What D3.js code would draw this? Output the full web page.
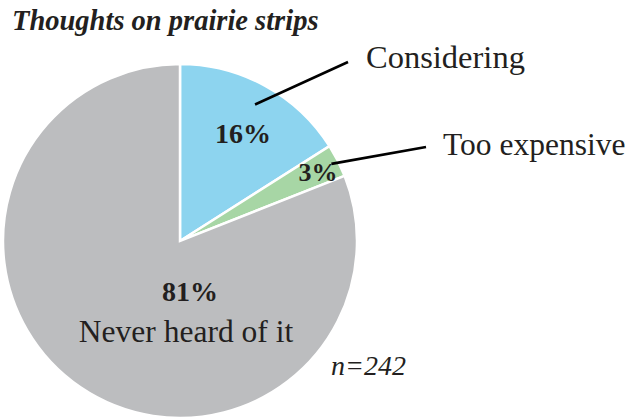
<!DOCTYPE html>
<html>
<head>
<meta charset="utf-8">
<script src="https://cdn.jsdelivr.net/npm/d3@7"></script>
<style>
  html, body { margin: 0; padding: 0; background: #fff; }
  svg text { font-family: "Liberation Serif", "DejaVu Serif", serif; fill: #231f20; }
</style>
</head>
<body>
<svg id="chart" width="636" height="420"></svg>
<script>
// Survey responses on prairie strips (percent of respondents)
const categories = ["Considering", "Too expensive", "Never heard of it"];
const values = [16, 3, 81];
const valueLabels = ["16%", "3%", "81%"];
const colors = ["#8dd4ef", "#a7d6a5", "#bcbdbf"];
const sampleNote = "n=242";
const title = "Thoughts on prairie strips";

const svg = d3.select("#chart");
const cx = 180, cy = 241, radius = 177;

const pie = d3.pie().sort(null).value(d => d)(values);
const arc = d3.arc().innerRadius(0).outerRadius(radius);

const g = svg.append("g").attr("transform", `translate(${cx},${cy})`);

g.selectAll("path.slice")
  .data(pie)
  .join("path")
  .attr("class", "slice")
  .attr("d", arc)
  .attr("fill", (d, i) => colors[i])
  .attr("stroke", "#fff")
  .attr("stroke-width", 2.5)
  .attr("stroke-linejoin", "miter");

// Percent labels inside the slices
const pctPos = [
  { x: 243, y: 143, size: 28 },
  { x: 318, y: 181, size: 26 },
  { x: 190, y: 301, size: 28 }
];
svg.selectAll("text.pct")
  .data(valueLabels)
  .join("text")
  .attr("class", "pct")
  .attr("x", (d, i) => pctPos[i].x)
  .attr("y", (d, i) => pctPos[i].y)
  .attr("text-anchor", "middle")
  .attr("font-weight", "bold")
  .attr("font-size", (d, i) => pctPos[i].size)
  .text(d => d);

// Category name inside the large slice
svg.append("text")
  .attr("x", 186)
  .attr("y", 342)
  .attr("text-anchor", "middle")
  .attr("font-size", 31.5)
  .text(categories[2]);

// Callouts for the two small slices
const leaders = [
  { angleFrac: 0.5, r: 0.88, x2: 348, y2: 62, tx: 366, ty: 68, size: 32.5 },
  { angleFrac: 0.5, r: 0.96, x2: 426, y2: 147, tx: 443, ty: 155, size: 31.5 }
];
leaders.forEach((l, i) => {
  const s = pie[i];
  const a = s.startAngle + (s.endAngle - s.startAngle) * l.angleFrac;
  const x1 = cx + Math.sin(a) * radius * l.r;
  const y1 = cy - Math.cos(a) * radius * l.r;
  svg.append("line")
    .attr("x1", x1).attr("y1", y1)
    .attr("x2", l.x2).attr("y2", l.y2)
    .attr("stroke", "#000")
    .attr("stroke-width", 2.6);
  svg.append("text")
    .attr("x", l.tx).attr("y", l.ty)
    .attr("font-size", l.size)
    .text(categories[i]);
});

svg.append("text")
  .attr("x", 331).attr("y", 375)
  .attr("font-style", "italic")
  .attr("font-size", 28)
  .text(sampleNote);

svg.append("text")
  .attr("x", 12).attr("y", 30)
  .attr("font-style", "italic")
  .attr("font-weight", "bold")
  .attr("font-size", 28.5)
  .text(title);
</script>
</body>
</html>
